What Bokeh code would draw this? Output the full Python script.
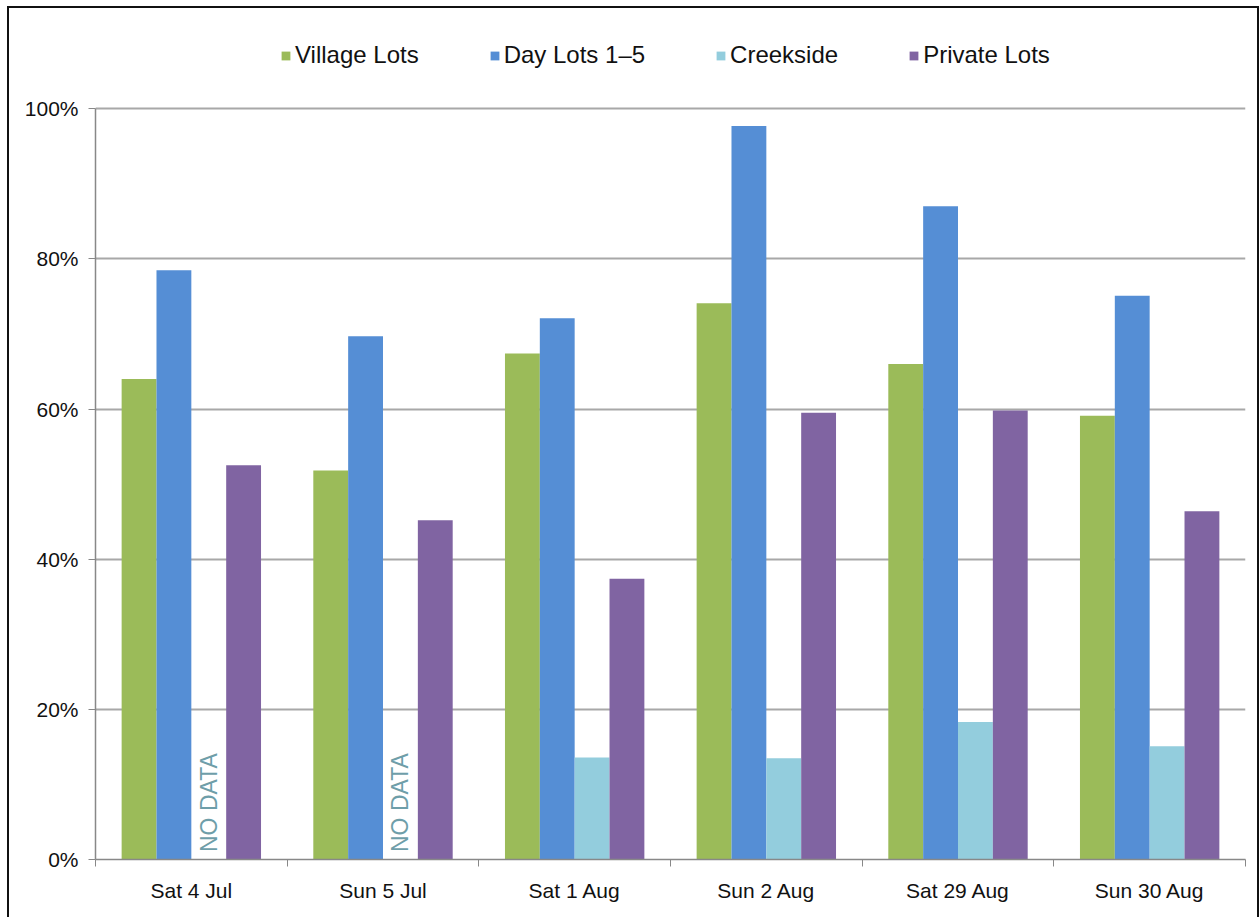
import math
from bokeh.plotting import figure
from bokeh.models import (ColumnDataSource, Legend, LegendItem, FixedTicker,
                          PrintfTickFormatter, Range1d)
from bokeh.core.properties import value
from bokeh.embed import file_html
from bokeh.resources import INLINE

# ---- data ----
categories = ["Sat 4 Jul", "Sun 5 Jul", "Sat 1 Aug", "Sun 2 Aug", "Sat 29 Aug", "Sun 30 Aug"]
village_lots = [64.0, 51.8, 67.4, 74.1, 66.0, 59.1]
day_lots = [78.5, 69.7, 72.1, 97.7, 87.0, 75.1]
creekside = [None, None, 13.6, 13.5, 18.3, 15.1]
private_lots = [52.5, 45.2, 37.4, 59.5, 59.8, 46.4]
series_names = ["Village Lots", "Day Lots 1–5", "Creekside", "Private Lots"]
series_colors = ["#9BBB59", "#558ED5", "#93CDDD", "#8064A2"]
y_ticks = [0, 20, 40, 60, 80, 100]
missing_label = "NO DATA"

FONT = "Liberation Sans"
series = [village_lots, day_lots, creekside, private_lots]
n = len(categories)
bw = 1.0 / 5.5
offsets = [-1.5 * bw, -0.5 * bw, 0.5 * bw, 1.5 * bw]

# frame runs from page y=20 to y=857; the 100% line sits at y=108
y_top = 100 * (857 - 20) / (857 - 108)

p = figure(width=1252, height=911, output_backend="svg", toolbar_location=None,
           x_range=Range1d(0, n), y_range=Range1d(0, y_top),
           min_border_left=86, min_border_right=16, min_border_top=12,
           min_border_bottom=60, title=None,
           margin=(6, 0, 0, 7),
           styles={"border-left": "2px solid #111", "border-top": "2px solid #111",
                   "border-right": "2px solid #111", "box-sizing": "border-box"})
p.outline_line_color = None
p.background_fill_color = "white"
p.border_fill_color = "white"

items = []
for name, vals, col, off in zip(series_names, series, series_colors, offsets):
    xs = [i + 0.5 + off for i, v in enumerate(vals) if v is not None]
    tops = [v for v in vals if v is not None]
    src = ColumnDataSource(dict(x=xs, top=tops))
    r = p.vbar(x="x", top="top", width=bw, bottom=0, source=src,
               fill_color=col, line_color=None)
    items.append(LegendItem(label=name, renderers=[r]))

# NO DATA labels where creekside is missing
nd_x = [i + 0.5 + offsets[2] for i, v in enumerate(creekside) if v is None]
nd_src = ColumnDataSource(dict(x=nd_x, y=[1.0] * len(nd_x), t=[missing_label] * len(nd_x)))
p.text(x="x", y="y", text="t", source=nd_src, angle=math.pi / 2,
       text_align="left", text_baseline="middle", text_color="#6E9EA9",
       text_font=value(FONT), text_font_size="23px")

# axes
p.xaxis.ticker = FixedTicker(ticks=[i + 0.5 for i in range(n)],
                             minor_ticks=list(range(n + 1)))
p.xaxis.major_label_overrides = {i + 0.5: c for i, c in enumerate(categories)}
p.xaxis.major_tick_out = 0
p.xaxis.major_tick_in = 0
p.xaxis.minor_tick_out = 7
p.xaxis.minor_tick_in = 0
p.xaxis.minor_tick_line_color = "#888888"
p.xaxis.axis_line_color = "#888888"
p.xaxis.axis_line_width = 1.5
p.xaxis.major_label_text_font = FONT
p.xaxis.major_label_text_font_size = "21px"
p.xaxis.major_label_text_color = "#111111"
p.xaxis.major_label_standoff = 12

p.yaxis.ticker = FixedTicker(ticks=y_ticks)
p.yaxis.bounds = (0, 100)
p.yaxis.formatter = PrintfTickFormatter(format="%d%%")
p.yaxis.major_tick_out = 7
p.yaxis.major_tick_in = 0
p.yaxis.minor_tick_line_color = None
p.yaxis.major_tick_line_color = "#888888"
p.yaxis.axis_line_color = "#888888"
p.yaxis.axis_line_width = 1.5
p.yaxis.major_label_text_font = FONT
p.yaxis.major_label_text_font_size = "21px"
p.yaxis.major_label_text_color = "#111111"
p.yaxis.major_label_standoff = 10

p.xgrid.grid_line_color = None
p.ygrid.ticker = FixedTicker(ticks=y_ticks)
p.ygrid.grid_line_color = "#A8A8A8"
p.ygrid.grid_line_width = 2

legend = Legend(items=items, orientation="horizontal", location=(185, 790),
                glyph_width=11, glyph_height=11, label_standoff=4, spacing=70,
                label_text_font=FONT, label_text_font_size="24px",
                label_text_color="#111111", border_line_color=None,
                background_fill_alpha=0, padding=0, margin=0)
p.add_layout(legend, "center")

open("out.html", "w").write(file_html(p, INLINE))
